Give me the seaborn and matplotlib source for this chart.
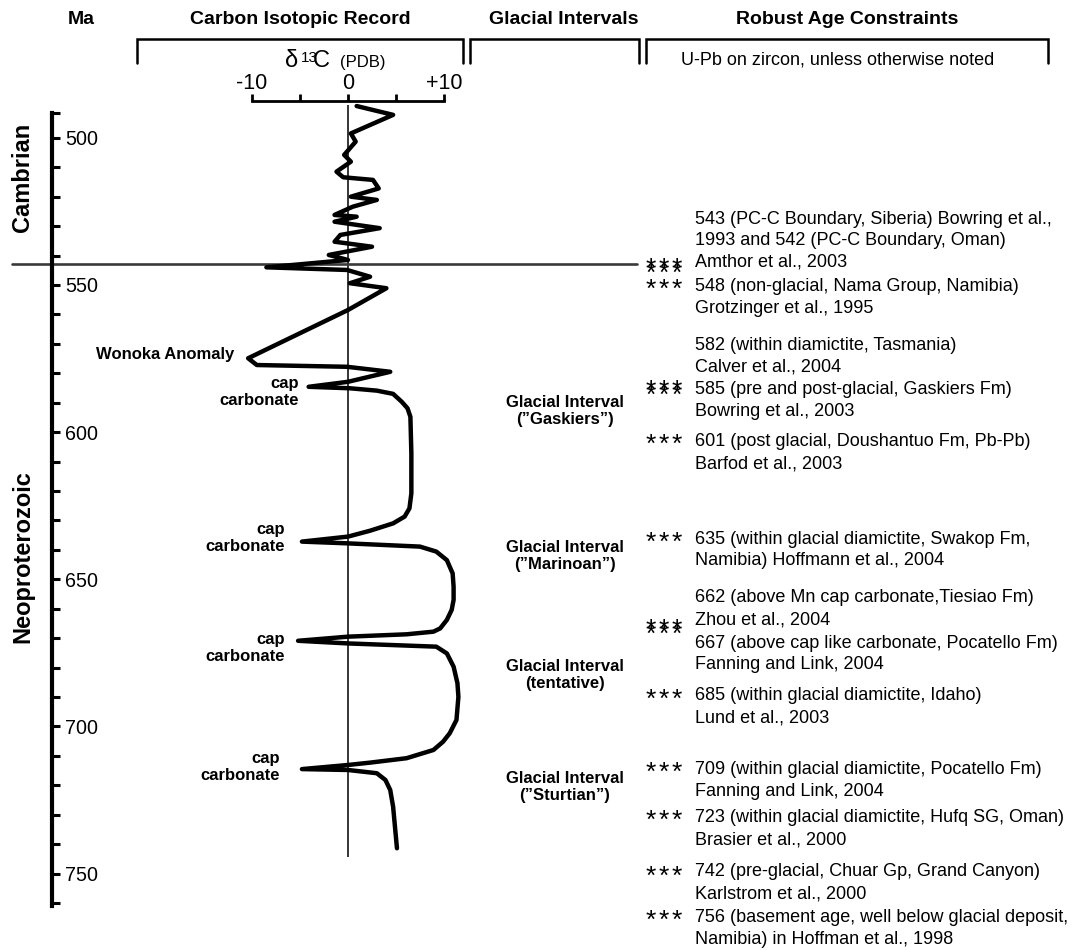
import numpy as np
import pandas as pd
import matplotlib
matplotlib.use("Agg")
import matplotlib.pyplot as plt
from matplotlib.lines import Line2D
import seaborn as sns

# ---------------------------------------------------------------------------
# Data
# ---------------------------------------------------------------------------
# Carbon isotope record: delta13C (per mil, PDB) against age (Ma)
d13c = [0.9, 4.7, 0.3, 0.8, -0.4, 0.3, -1.2, -0.5, 2.6, 3.2, 0.3, 3.0, 0.5,
        -1.4, 0.9, -1.4, 3.3, -0.8, -1.4, 2.5, -2.0, 0.0, -8.5, -0.1, 2.3,
        0.2, 4.0, 0.0, -10.4, -9.5, -0.1, 4.4, 0.0, -4.1, 0.2, 3.0, 4.7,
        5.6, 6.2, 6.5, 6.6, 6.6, 6.4, 5.9, 4.7, 2.3, 0.0, -4.8, 0.0, 7.5,
        9.2, 10.3, 10.9, 11.0, 11.0, 10.8, 10.3, 9.6, 8.9, 6.1, 0.0, -5.2,
        0.0, 9.2, 10.3, 11.0, 11.4, 11.5, 11.3, 10.6, 9.9, 8.9, 6.1, 2.3,
        0.0, -4.8, 0.0, 3.0, 3.9, 4.4, 4.7, 5.1]
age_ma = [489.2, 492.2, 498.5, 501.3, 505.8, 508.1, 511.5, 513.4, 514.3,
          517.2, 520.0, 521.1, 523.4, 526.2, 526.8, 528.5, 530.7, 533.0,
          535.3, 537.0, 539.8, 541.5, 544.0, 544.9, 547.2, 549.4, 551.1,
          558.5, 574.9, 577.2, 577.8, 579.5, 582.9, 584.6, 585.1, 585.9,
          587.0, 589.7, 591.9, 594.8, 607.2, 620.8, 625.9, 628.7, 631.0,
          633.5, 635.5, 637.2, 637.8, 638.9, 640.6, 643.5, 648.0, 652.5,
          657.0, 660.4, 663.8, 666.7, 667.8, 668.7, 669.5, 670.9, 671.8,
          672.9, 675.2, 679.7, 685.3, 689.9, 697.8, 702.3, 705.2, 708.0,
          710.8, 712.3, 713.1, 714.5, 714.8, 715.9, 718.2, 721.6, 727.3,
          741.4]

boundary_age = 543            # Precambrian-Cambrian boundary
zero_line_span = (488.9, 744.4)

age_ticks = list(range(500, 761, 10))
age_tick_labels = [str(t) if t % 50 == 0 else "" for t in age_ticks]
d13c_ticks = [-10, -5, 0, 5, 10]
d13c_tick_labels = ["-10", "", "0", "", "+10"]

headers = ["Ma", "Carbon Isotopic Record", "Glacial Intervals",
           "Robust Age Constraints"]
periods = ["Cambrian", "Neoproterozoic"]

glacial_labels = ["Glacial Interval\n(\u201dGaskiers\u201d)",
                  "Glacial Interval\n(\u201dMarinoan\u201d)",
                  "Glacial Interval\n(tentative)",
                  "Glacial Interval\n(\u201dSturtian\u201d)"]

cap_label = "cap\ncarbonate"
anomaly_label = "Wonoka Anomaly"

constraint_note = "U-Pb on zircon, unless otherwise noted"
constraints = [
    "543 (PC-C Boundary, Siberia) Bowring et al.,\n1993 and 542 (PC-C Boundary, Oman)\nAmthor et al., 2003",
    "548 (non-glacial, Nama Group, Namibia)\nGrotzinger et al., 1995",
    "582 (within diamictite, Tasmania)\nCalver et al., 2004",
    "585 (pre and post-glacial, Gaskiers Fm)\nBowring et al., 2003",
    "601 (post glacial, Doushantuo Fm, Pb-Pb)\nBarfod et al., 2003",
    "635 (within glacial diamictite, Swakop Fm,\nNamibia) Hoffmann et al., 2004",
    "662 (above Mn cap carbonate,Tiesiao Fm)\nZhou et al., 2004",
    "667 (above cap like carbonate, Pocatello Fm)\nFanning and Link, 2004",
    "685 (within glacial diamictite, Idaho)\nLund et al., 2003",
    "709 (within glacial diamictite, Pocatello Fm)\nFanning and Link, 2004",
    "723 (within glacial diamictite, Hufq SG, Oman)\nBrasier et al., 2000",
    "742 (pre-glacial, Chuar Gp, Grand Canyon)\nKarlstrom et al., 2000",
    "756 (basement age, well below glacial deposit,\nNamibia) in Hoffman et al., 1998",
]

# ---------------------------------------------------------------------------
# Layout (pixel positions on a 1072 x 950 canvas)
# ---------------------------------------------------------------------------
W, H = 1072, 950
header_x = [81, 300, 564, 847]
header_y = 20
brackets = [(137, 463), (470, 639), (646, 1048)]
bracket_top, bracket_bottom = 39, 63
period_pos = [(23, 177), (23, 557)]
glacial_pos = [(565, 411), (565, 556), (565, 675), (565, 787)]
cap_pos = [(299, 392), (285, 538), (285, 648), (280, 767)]
anomaly_pos = (234, 355)
constraint_x = 695
constraint_line_gap = 21.6
constraint_y = [219, 287, 345, 390, 442, 539, 598, 643, 696, 770, 818, 872, 918]
star_x = [651, 664, 677]
star_rows = [[264, 269], [285], [386, 391], [440], [538], [625, 630], [695],
             [768], [816], [872], [916]]

# vertical scale: pixel row = 505.7 + 2.943 * (age - 625)
# horizontal scale: pixel column = 348 + 9.6 * d13C
AGE_TOP = 625 - 505.7 / 2.943
AGE_BOTTOM = 625 + (H - 505.7) / 2.943
D_LEFT = -348 / 9.6
D_RIGHT = (W - 348) / 9.6


def fx(x):
    return x / W


def fy(y):
    return 1 - y / H


# ---------------------------------------------------------------------------
# Figure
# ---------------------------------------------------------------------------
sns.set_theme(style="white")
plt.rcParams["font.family"] = ["Liberation Sans", "DejaVu Sans"]
plt.rcParams["text.color"] = "black"

fig = plt.figure(figsize=(W / 100, H / 100), dpi=100)
fig.patch.set_facecolor("white")
ax = fig.add_axes([0, 0, 1, 1])
ax.set_facecolor("none")

df = pd.DataFrame({"d13c": d13c, "age": age_ma})
sns.lineplot(data=df, x="d13c", y="age", sort=False, estimator=None,
             color="black", linewidth=3.2, ax=ax)
for ln in ax.lines:
    ln.set_solid_joinstyle("round")
    ln.set_solid_capstyle("round")

ax.vlines(0, *zero_line_span, color="black", linewidth=1.1, zorder=1)
ax.axhline(boundary_age, xmin=fx(12), xmax=fx(637), color="#3a3a3a",
           linewidth=1.9, zorder=1)

ax.set_xlim(D_LEFT, D_RIGHT)
ax.set_ylim(AGE_BOTTOM, AGE_TOP)
ax.set_xlabel("")
ax.set_ylabel("")

# spines: age axis on the left, delta13C scale bar on top
for s in ["left", "bottom"]:
    ax.spines[s].set_visible(False)
ax.spines["right"].set_position(("axes", fx(52)))
ax.spines["right"].set_bounds(491.6, 761)
ax.spines["right"].set_linewidth(3.0)
ax.spines["right"].set_color("black")
ax.spines["top"].set_position(("data", 625 + (101.5 - 505.7) / 2.943))
ax.spines["top"].set_bounds(-10, 10)
ax.spines["top"].set_linewidth(2.0)
ax.spines["top"].set_color("black")

ax.yaxis.set_ticks_position("right")
ax.set_yticks(age_ticks)
ax.set_yticklabels(age_tick_labels)
ax.set_yticks([491.6], minor=True)
ax.tick_params(axis="y", which="both", direction="out", length=5.5,
               width=2.2, color="black", labelsize=14.2, pad=4,
               labelcolor="black", right=True, left=False)

ax.xaxis.set_ticks_position("top")
ax.set_xticks(d13c_ticks)
ax.set_xticklabels(d13c_tick_labels)
ax.tick_params(axis="x", which="both", direction="out", length=5, width=2,
               color="black", labelsize=15.5, pad=0.5, labelcolor="black",
               top=True, bottom=False)

# ---------------------------------------------------------------------------
# Column headers and brackets
# ---------------------------------------------------------------------------
for txt, x in zip(headers, header_x):
    fig.text(fx(x), fy(header_y), txt, ha="center", va="center",
             fontsize=14, fontweight="bold")

for x0, x1 in brackets:
    fig.add_artist(Line2D([fx(x0), fx(x0), fx(x1), fx(x1)],
                          [fy(bracket_bottom), fy(bracket_top),
                           fy(bracket_top), fy(bracket_bottom)],
                          color="black", linewidth=1.8,
                          solid_joinstyle="miter"))

# delta13C (PDB) axis title
fig.text(fx(285), fy(67), "\u03b4", ha="left", va="baseline", fontsize=17)
fig.text(fx(301), fy(62), "13", ha="left", va="baseline", fontsize=11)
fig.text(fx(313), fy(67), "C", ha="left", va="baseline", fontsize=17)
fig.text(fx(340), fy(67), "(PDB)", ha="left", va="baseline", fontsize=12)

fig.text(fx(838), fy(60), constraint_note, ha="center", va="center",
         fontsize=13)

# period names along the age axis
for name, (x, y) in zip(periods, period_pos):
    fig.text(fx(x), fy(y), name, ha="center", va="center", rotation=90,
             fontsize=17, fontweight="bold")

# annotations beside the curve
fig.text(fx(anomaly_pos[0]), fy(anomaly_pos[1]), anomaly_label, ha="right",
         va="center", fontsize=12, fontweight="bold")
for x, y in cap_pos:
    fig.text(fx(x), fy(y), cap_label, ha="right", va="center",
             multialignment="right", fontsize=12, fontweight="bold",
             linespacing=1.2)

for txt, (x, y) in zip(glacial_labels, glacial_pos):
    fig.text(fx(x), fy(y), txt, ha="center", va="center",
             multialignment="center", fontsize=12, fontweight="bold",
             linespacing=1.2)

# age constraints, one text per line
for txt, y in zip(constraints, constraint_y):
    for i, line in enumerate(txt.split("\n")):
        fig.text(fx(constraint_x), fy(y + i * constraint_line_gap), line,
                 ha="left", va="center", fontsize=13)

# asterisk markers beside each constraint (offset pairs where two overlap)
for rows in star_rows:
    for y in rows:
        for x in star_x:
            fig.text(fx(x), fy(y + 12), "*", ha="center", va="baseline",
                     fontsize=19)

fig.savefig("out.png", dpi=100, facecolor="white")
